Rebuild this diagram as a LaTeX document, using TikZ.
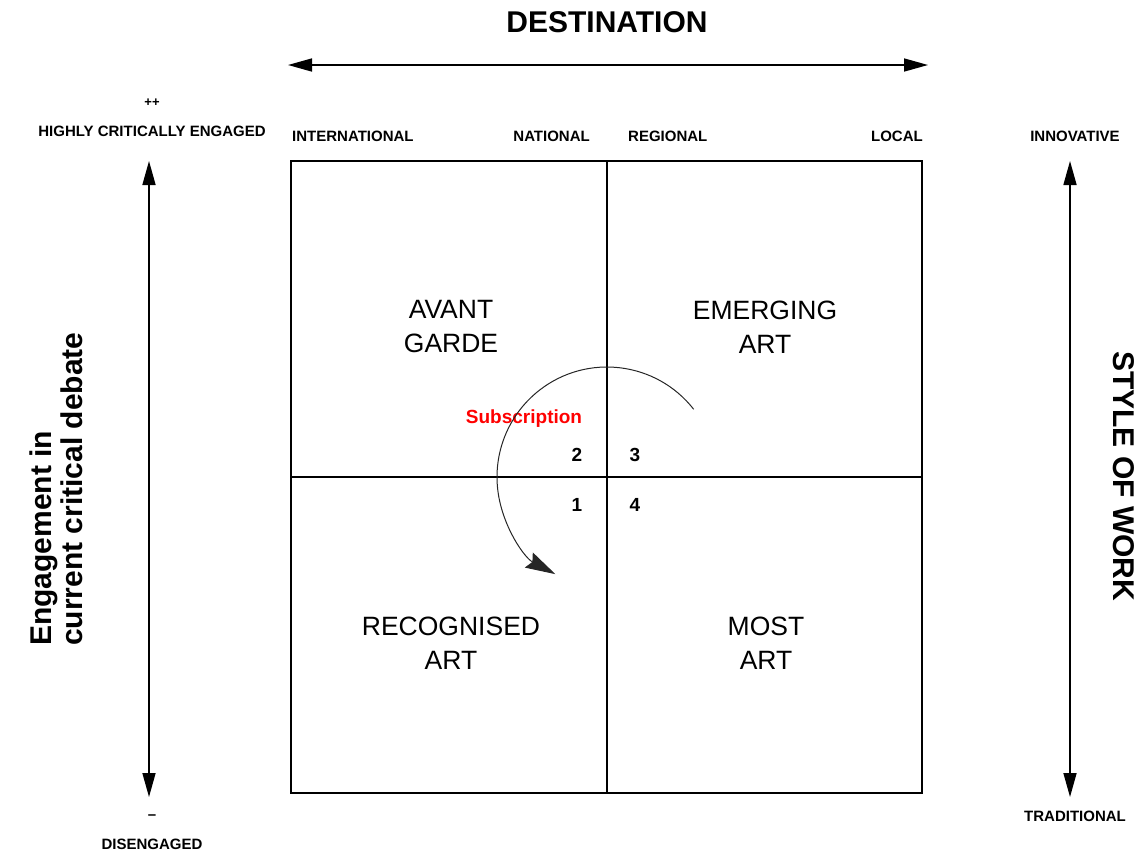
\documentclass[tikz,border=0pt]{standalone}
\usepackage{fontspec}
\setmainfont{Liberation Sans}
\usetikzlibrary{arrows.meta}
\begin{document}
\begin{tikzpicture}[x=1pt,y=-1pt,
  axis/.style={line width=1.6pt,{Triangle[length=24pt,width=13pt]}-{Triangle[length=24pt,width=13pt]}},
  grid/.style={line width=1.5pt},
  big/.style={font=\fontsize{30}{32}\selectfont\bfseries,inner sep=0pt},
  small/.style={font=\fontsize{15}{16}\selectfont\bfseries,inner sep=0pt},
  quad/.style={font=\fontsize{26.5}{34}\selectfont,align=center,inner sep=0pt},
  num/.style={font=\fontsize{19}{20}\selectfont\bfseries,inner sep=0pt},
  sub/.style={font=\fontsize{19}{20}\selectfont\bfseries,text=red,inner sep=0pt},
  cyc/.style={line width=1pt,draw=black!85,-{Stealth[length=30pt,width=17pt,inset=4pt]}}]
\useasboundingbox (0,0) rectangle (1139,852);
% box
\coordinate (tl) at (291,161);
\coordinate (br) at (922,793);
\coordinate (tm) at (607,161);
\coordinate (bm) at (607,793);
\coordinate (lm) at (291,477);
\coordinate (rm) at (922,477);
\coordinate (c) at (607,477);
\draw[grid] (tl) rectangle (br);
\draw[grid] (tm) -- (bm);
\draw[grid] (lm) -- (rm);
% top
\node[big] (dest) at (607,22) {DESTINATION};
\coordinate (hl) at (288,65);
\coordinate (hr) at (928,65);
\draw[axis] (hl) -- (hr);
\node[small,anchor=west] (intl) at (292,136) {INTERNATIONAL};
\node[small,anchor=east] (natl) at (590,136) {NATIONAL};
\node[small,anchor=west] (regl) at (628,136) {REGIONAL};
\node[small,anchor=east] (locl) at (923,136) {LOCAL};
% left axis
\node[font=\fontsize{13}{14}\selectfont\bfseries,inner sep=0pt] (pp) at (152,103) {++};
\node[small] (hce) at (152,131) {HIGHLY CRITICALLY ENGAGED};
\coordinate (lt) at (149,161);
\coordinate (lb) at (149,797);
\draw[axis] (lt) -- (lb);
\node[small] (mn) at (152,817) {–};
\node[small] (dis) at (152,844) {DISENGAGED};
\node[font=\fontsize{30}{31}\selectfont\bfseries,rotate=90,anchor=west,align=left,inner sep=0pt] (eng) at (56,646) {Engagement in\\current critical debate};
% right axis
\node[small] (inn) at (1075,136) {INNOVATIVE};
\coordinate (rt) at (1070,161);
\coordinate (rb) at (1070,797);
\draw[axis] (rt) -- (rb);
\node[small] (trad) at (1075,816) {TRADITIONAL};
\node[big,rotate=-90] (style) at (1124,476) {STYLE OF WORK};
% quadrants
\node[quad] (avant) at (451,327) {AVANT\\GARDE};
\node[quad] (emerg) at (765,327) {EMERGING\\ART};
\node[quad] (recog) at (451,643) {RECOGNISED\\ART};
\node[quad] (most) at (766,643) {MOST\\ART};
% numbers
\node[num] (n2) at (577,455) {2};
\node[num] (n3) at (635,455) {3};
\node[num] (n1) at (577,505) {1};
\node[num] (n4) at (635,505) {4};
\node[sub] (subs) at (524,419) {Subscription};
% cycle arc
\draw[cyc] ([shift={(-38:110)}]c) arc[start angle=-38,end angle=-242,radius=110];
\end{tikzpicture}
\end{document}
